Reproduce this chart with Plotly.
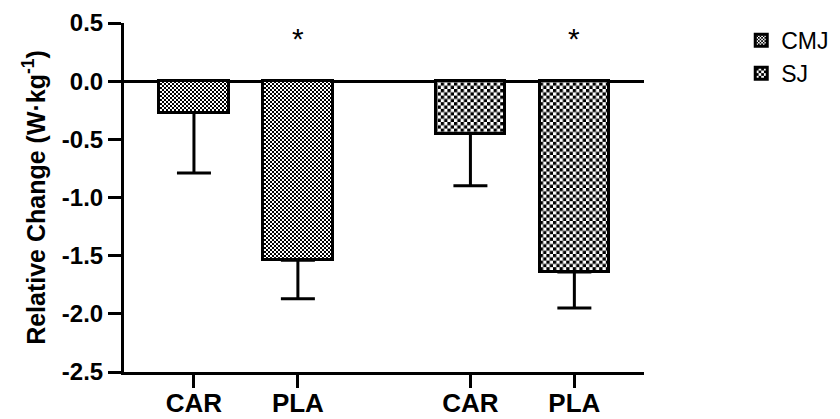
import plotly.graph_objects as go

# ---- data ----
categories = ["CAR", "PLA"]
groups = ["CMJ", "SJ"]
cmj_mean = [-0.27, -1.54]
cmj_sd = [0.52, 0.33]
sj_mean = [-0.45, -1.64]
sj_sd = [0.45, 0.31]
significant = [False, True]
y_ticks = [0.5, 0.0, -0.5, -1.0, -1.5, -2.0, -2.5]

group_step = 2.66
bar_width = 0.67
font_family = "Liberation Sans, Arial, sans-serif"

means = [cmj_mean, sj_mean]
sds = [cmj_sd, sj_sd]
patterns = [
    dict(shape=".", size=4, solidity=0.5, fgcolor="black", bgcolor="white"),
    dict(shape=".", size=6.6, solidity=0.5, fgcolor="black", bgcolor="white"),
]

fig = go.Figure()
tickvals, ticktext = [], []
for g, name in enumerate(groups):
    xs = [g * group_step + i for i in range(len(categories))]
    tickvals += xs
    ticktext += categories
    fig.add_trace(go.Bar(
        x=xs, y=means[g], name=name, width=bar_width,
        marker=dict(color="white", pattern=patterns[g],
                    line=dict(color="black", width=3)),
        error_y=dict(type="data", symmetric=False,
                     array=[0] * len(categories), arrayminus=sds[g],
                     color="black", thickness=3, width=17),
    ))
    for i, sig in enumerate(significant):
        if sig:
            fig.add_annotation(x=xs[i], y=0.37, text="*", showarrow=False,
                               font=dict(size=30, family=font_family, color="black"),
                               yanchor="middle")

fig.update_layout(
    width=840, height=419,
    margin=dict(l=124, r=196, t=23, b=47, autoexpand=False),
    plot_bgcolor="white", paper_bgcolor="white",
    barmode="overlay", bargap=0,
    font=dict(family=font_family, color="black"),
    showlegend=True,
    legend=dict(x=1.187, y=1.012, xanchor="left", yanchor="top",
                font=dict(size=23, family=font_family, color="black"),
                tracegroupgap=0),
    xaxis=dict(range=[-bar_width - 0.003, group_step + 1 + bar_width],
               tickvals=tickvals, ticktext=ticktext, automargin=False,
               showline=True, linecolor="black", linewidth=3,
               ticks="outside", ticklen=13, tickwidth=3, tickcolor="black",
               tickfont=dict(size=26, weight="bold"), ticklabelstandoff=-7,
               showgrid=False, zeroline=False),
    yaxis=dict(range=[-2.5, 0.5], tickvals=y_ticks, automargin=False,
               ticktext=[f"{v:.1f}" for v in y_ticks],
               showline=True, linecolor="black", linewidth=3,
               ticks="outside", ticklen=13, tickwidth=3, tickcolor="black",
               tickfont=dict(size=24, weight="bold"),
               showgrid=False, zeroline=True, zerolinecolor="black", zerolinewidth=3,
               title=dict(text="Relative Change (W·kg<sup>-1</sup>)",
                          font=dict(size=25, weight="bold"), standoff=10)),
)

# Turn the dot patterns into checkerboards (pure styling of the fill pattern).
post_js = """
(function(){
  var gd = document.getElementById('{plot_id}');
  var ns = 'http://www.w3.org/2000/svg';
  function checker(){
    document.querySelectorAll('pattern').forEach(function(p){
      var c = p.querySelector('circle');
      if(!c) return;
      var s = parseFloat(p.getAttribute('width'));
      var h = s / 2;
      c.parentNode.removeChild(c);
      [[0,0],[h,h]].forEach(function(xy){
        var r = document.createElementNS(ns, 'rect');
        r.setAttribute('x', xy[0]); r.setAttribute('y', xy[1]);
        r.setAttribute('width', h); r.setAttribute('height', h);
        r.setAttribute('style', 'fill: rgb(0,0,0); fill-opacity: 1;');
        p.appendChild(r);
      });
    });
  }
  checker();
  if(gd && gd.on){ gd.on('plotly_afterplot', checker); }
})();
"""

fig.write_html("out.html", post_script=post_js)
